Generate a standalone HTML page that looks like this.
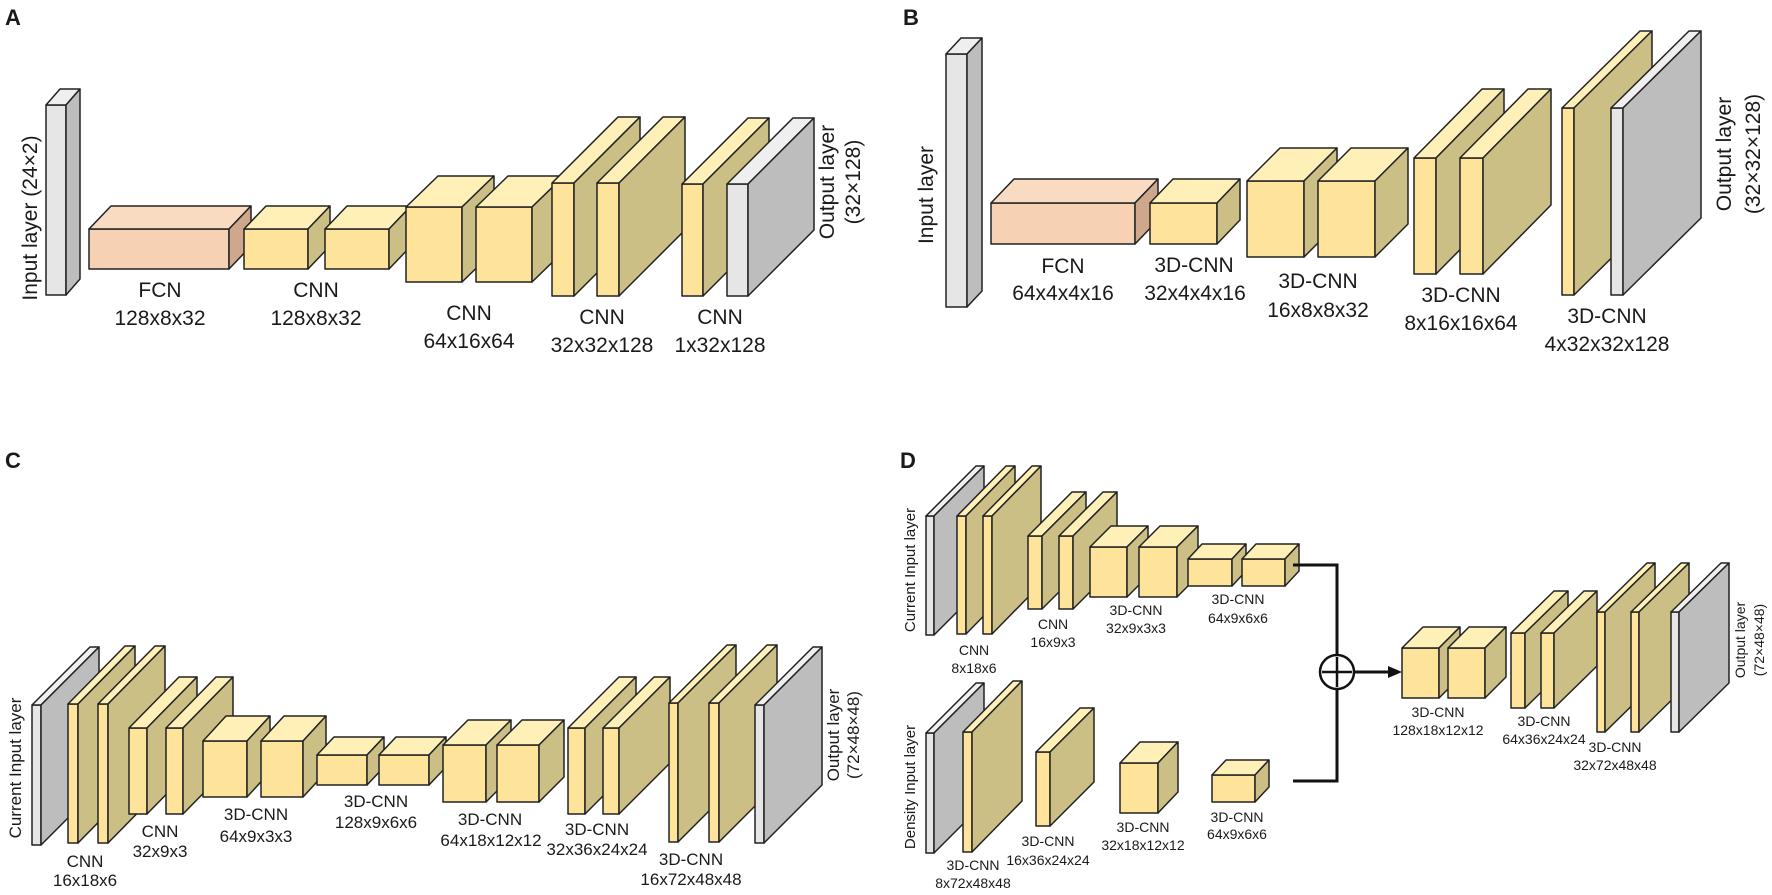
<!DOCTYPE html>
<html><head><meta charset="utf-8"><style>
html,body{margin:0;padding:0;background:#fff;}
svg{display:block;}
text{font-family:"Liberation Sans",Arial,sans-serif;fill:#1a1a1a;}
.y rect,.y .f{fill:#FEE39B}.y .t{fill:#FEF0B6}.y .s{fill:#CBBF86}
.o rect{fill:#F7D1B3}.o .t{fill:#F9DBC2}.o .s{fill:#CFA78D}
.g rect{fill:#E6E6E6}.g .t{fill:#EFEFEF}.g .s{fill:#BDBDBD}
g.y *,g.o *,g.g *{stroke:#222;stroke-width:1.5;stroke-linejoin:round}
.la{font-size:21px;text-anchor:middle}
.lc{font-size:17px;text-anchor:middle}
.ld{font-size:14px;text-anchor:middle}
.P{font-size:22px;font-weight:bold}
</style></head><body>
<svg width="1772" height="895" viewBox="0 0 1772 895" xmlns="http://www.w3.org/2000/svg">
<text class="P" x="5" y="25">A</text>
<text class="P" x="903" y="25">B</text>
<text class="P" x="5" y="468">C</text>
<text class="P" x="900" y="468">D</text>

<!-- ===== Panel A ===== -->
<g class="g"><rect x="46" y="105" width="20" height="190"/><polygon class="t" points="46,105 60,89 80,89 66,105"/><polygon class="s" points="66,105 80,89 80,279 66,295"/></g>
<g class="o"><rect x="89" y="229" width="140" height="40"/><polygon class="t" points="89,229 111,206 251,206 229,229"/><polygon class="s" points="229,229 251,206 251,246 229,269"/></g>
<g class="y"><rect x="244" y="229" width="64" height="40"/><polygon class="t" points="244,229 266,206 330,206 308,229"/><polygon class="s" points="308,229 330,206 330,246 308,269"/></g>
<g class="y"><rect x="325" y="229" width="64" height="40"/><polygon class="t" points="325,229 347,206 411,206 389,229"/><polygon class="s" points="389,229 411,206 411,246 389,269"/></g>
<g class="y"><rect x="406" y="207" width="56" height="75"/><polygon class="t" points="406,207 438,176 494,176 462,207"/><polygon class="s" points="462,207 494,176 494,251 462,282"/></g>
<g class="y"><rect x="476" y="207" width="56" height="75"/><polygon class="t" points="476,207 508,176 564,176 532,207"/><polygon class="s" points="532,207 564,176 564,251 532,282"/></g>
<g class="y"><rect x="552" y="183" width="22" height="113"/><polygon class="t" points="552,183 618,117 640,117 574,183"/><polygon class="s" points="574,183 640,117 640,230 574,296"/></g>
<g class="y"><rect x="597" y="183" width="22" height="113"/><polygon class="t" points="597,183 663,117 685,117 619,183"/><polygon class="s" points="619,183 685,117 685,230 619,296"/></g>
<g class="y"><rect x="682" y="184" width="21" height="112"/><polygon class="t" points="682,184 748,118 769,118 703,184"/><polygon class="s" points="703,184 769,118 769,230 703,296"/></g>
<g class="g"><rect x="727" y="184" width="21" height="112"/><polygon class="t" points="727,184 793,118 814,118 748,184"/><polygon class="s" points="748,184 814,118 814,230 748,296"/></g>

<text class="la" transform="translate(37,218) rotate(-90)">Input layer (24×2)</text>
<text class="la" transform="translate(834,182) rotate(-90)">Output layer</text>
<text class="la" transform="translate(860,182) rotate(-90)">(32×128)</text>
<text class="la" x="160" y="297">FCN</text><text class="la" x="160" y="325">128x8x32</text>
<text class="la" x="316" y="297">CNN</text><text class="la" x="316" y="325">128x8x32</text>
<text class="la" x="469" y="320">CNN</text><text class="la" x="469" y="348">64x16x64</text>
<text class="la" x="602" y="324">CNN</text><text class="la" x="602" y="352">32x32x128</text>
<text class="la" x="720" y="324">CNN</text><text class="la" x="720" y="352">1x32x128</text>

<!-- ===== Panel B ===== -->
<g class="g"><rect x="946" y="54" width="21" height="253"/><polygon class="t" points="946,54 961,38 982,38 967,54"/><polygon class="s" points="967,54 982,38 982,291 967,307"/></g>
<g class="o"><rect x="991" y="203" width="144" height="41"/><polygon class="t" points="991,203 1014,179 1158,179 1135,203"/><polygon class="s" points="1135,203 1158,179 1158,220 1135,244"/></g>
<g class="y"><rect x="1150" y="203" width="67" height="41"/><polygon class="t" points="1150,203 1173,179 1240,179 1217,203"/><polygon class="s" points="1217,203 1240,179 1240,220 1217,244"/></g>
<g class="y"><rect x="1247" y="181" width="57" height="76"/><polygon class="t" points="1247,181 1280,148 1337,148 1304,181"/><polygon class="s" points="1304,181 1337,148 1337,224 1304,257"/></g>
<g class="y"><rect x="1318" y="181" width="57" height="76"/><polygon class="t" points="1318,181 1351,148 1408,148 1375,181"/><polygon class="s" points="1375,181 1408,148 1408,224 1375,257"/></g>
<g class="y"><rect x="1414" y="158" width="22" height="116"/><polygon class="t" points="1414,158 1482,89 1504,89 1436,158"/><polygon class="s" points="1436,158 1504,89 1504,205 1436,274"/></g>
<g class="y"><rect x="1460" y="158" width="23" height="116"/><polygon class="t" points="1460,158 1528,89 1551,89 1483,158"/><polygon class="s" points="1483,158 1551,89 1551,205 1483,274"/></g>
<g class="y"><rect x="1562" y="108" width="12" height="187"/><polygon class="t" points="1562,108 1640,31 1652,31 1574,108"/><polygon class="s" points="1574,108 1652,31 1652,218 1574,295"/></g>
<g class="g"><rect x="1611" y="108" width="12" height="187"/><polygon class="t" points="1611,108 1689,31 1701,31 1623,108"/><polygon class="s" points="1623,108 1701,31 1701,218 1623,295"/></g>

<text class="la" transform="translate(933,195) rotate(-90)">Input layer</text>
<text class="la" transform="translate(1731,154) rotate(-90)">Output layer</text>
<text class="la" transform="translate(1760,154) rotate(-90)">(32×32×128)</text>
<text class="la" x="1063" y="273">FCN</text><text class="la" x="1063" y="300">64x4x4x16</text>
<text class="la" x="1194" y="272">3D-CNN</text><text class="la" x="1195" y="300">32x4x4x16</text>
<text class="la" x="1318" y="288">3D-CNN</text><text class="la" x="1318" y="317">16x8x8x32</text>
<text class="la" x="1461" y="302">3D-CNN</text><text class="la" x="1461" y="330">8x16x16x64</text>
<text class="la" x="1607" y="323">3D-CNN</text><text class="la" x="1607" y="351">4x32x32x128</text>

<!-- ===== Panel C ===== -->
<g class="g"><rect x="32" y="705" width="9" height="140"/><polygon class="t" points="32,705 90,647 99,647 41,705"/><polygon class="s" points="41,705 99,647 99,787 41,845"/></g>
<g class="y"><rect x="68" y="704" width="10" height="139"/><polygon class="t" points="68,704 125,646 135,646 78,704"/><polygon class="s" points="78,704 135,646 135,785 78,843"/></g>
<g class="y"><rect x="98" y="704" width="10" height="139"/><polygon class="t" points="98,704 155,646 165,646 108,704"/><polygon class="s" points="108,704 165,646 165,785 108,843"/></g>
<g class="y"><rect x="129" y="728" width="18" height="86"/><polygon class="t" points="129,728 179,677 197,677 147,728"/><polygon class="s" points="147,728 197,677 197,763 147,814"/></g>
<g class="y"><rect x="166" y="728" width="17" height="86"/><polygon class="t" points="166,728 216,677 233,677 183,728"/><polygon class="s" points="183,728 233,677 233,763 183,814"/></g>
<g class="y"><rect x="203" y="741" width="44" height="56"/><polygon class="t" points="203,741 226,716 270,716 247,741"/><polygon class="s" points="247,741 270,716 270,772 247,797"/></g>
<g class="y"><rect x="261" y="741" width="42" height="56"/><polygon class="t" points="261,741 284,716 326,716 303,741"/><polygon class="s" points="303,741 326,716 326,772 303,797"/></g>
<g class="y"><rect x="317" y="755" width="50" height="30"/><polygon class="t" points="317,755 334,737 384,737 367,755"/><polygon class="s" points="367,755 384,737 384,767 367,785"/></g>
<g class="y"><rect x="379" y="755" width="50" height="30"/><polygon class="t" points="379,755 396,737 446,737 429,755"/><polygon class="s" points="429,755 446,737 446,767 429,785"/></g>
<g class="y"><rect x="443" y="745" width="43" height="57"/><polygon class="t" points="443,745 468,720 511,720 486,745"/><polygon class="s" points="486,745 511,720 511,777 486,802"/></g>
<g class="y"><rect x="497" y="745" width="42" height="57"/><polygon class="t" points="497,745 522,720 564,720 539,745"/><polygon class="s" points="539,745 564,720 564,777 539,802"/></g>
<g class="y"><rect x="568" y="728" width="17" height="86"/><polygon class="t" points="568,728 619,677 636,677 585,728"/><polygon class="s" points="585,728 636,677 636,763 585,814"/></g>
<g class="y"><rect x="603" y="728" width="16" height="86"/><polygon class="t" points="603,728 654,677 670,677 619,728"/><polygon class="s" points="619,728 670,677 670,763 619,814"/></g>
<g class="y"><rect x="669" y="703" width="9" height="139"/><polygon class="t" points="669,703 727,645 736,645 678,703"/><polygon class="s" points="678,703 736,645 736,784 678,842"/></g>
<g class="y"><rect x="709" y="703" width="10" height="139"/><polygon class="t" points="709,703 767,645 777,645 719,703"/><polygon class="s" points="719,703 777,645 777,784 719,842"/></g>
<g class="g"><rect x="755" y="705" width="9" height="138"/><polygon class="t" points="755,705 813,647 822,647 764,705"/><polygon class="s" points="764,705 822,647 822,785 764,843"/></g>

<text class="lc" transform="translate(21,768) rotate(-90)">Current Input layer</text>
<text class="lc" transform="translate(839,735) rotate(-90)">Output layer</text>
<text class="lc" transform="translate(859,735) rotate(-90)">(72×48×48)</text>
<text class="lc" x="85" y="867">CNN</text><text class="lc" x="85" y="886">16x18x6</text>
<text class="lc" x="160" y="837">CNN</text><text class="lc" x="160" y="857">32x9x3</text>
<text class="lc" x="256" y="820">3D-CNN</text><text class="lc" x="256" y="842">64x9x3x3</text>
<text class="lc" x="376" y="807">3D-CNN</text><text class="lc" x="376" y="828">128x9x6x6</text>
<text class="lc" x="490" y="825">3D-CNN</text><text class="lc" x="491" y="846">64x18x12x12</text>
<text class="lc" x="597" y="835">3D-CNN</text><text class="lc" x="597" y="855">32x36x24x24</text>
<text class="lc" x="691" y="865">3D-CNN</text><text class="lc" x="691" y="885">16x72x48x48</text>

<!-- ===== Panel D ===== -->
<g class="g"><rect x="926" y="516" width="8" height="119"/><polygon class="t" points="926,516 976,466 984,466 934,516"/><polygon class="s" points="934,516 984,466 984,585 934,635"/></g>
<g class="y"><rect x="957" y="516" width="9" height="118"/><polygon class="t" points="957,516 1006,466 1015,466 966,516"/><polygon class="s" points="966,516 1015,466 1015,584 966,634"/></g>
<g class="y"><rect x="983" y="516" width="9" height="118"/><polygon class="t" points="983,516 1032,466 1041,466 992,516"/><polygon class="s" points="992,516 1041,466 1041,584 992,634"/></g>
<g class="y"><rect x="1028" y="536" width="14" height="73"/><polygon class="t" points="1028,536 1072,492 1086,492 1042,536"/><polygon class="s" points="1042,536 1086,492 1086,565 1042,609"/></g>
<g class="y"><rect x="1059" y="536" width="14" height="73"/><polygon class="t" points="1059,536 1103,492 1117,492 1073,536"/><polygon class="s" points="1073,536 1117,492 1117,565 1073,609"/></g>
<g class="y"><rect x="1090" y="547" width="37" height="50"/><polygon class="t" points="1090,547 1111,526 1148,526 1127,547"/><polygon class="s" points="1127,547 1148,526 1148,576 1127,597"/></g>
<g class="y"><rect x="1139" y="547" width="38" height="50"/><polygon class="t" points="1139,547 1160,526 1198,526 1177,547"/><polygon class="s" points="1177,547 1198,526 1198,576 1177,597"/></g>
<g class="y"><rect x="1188" y="559" width="44" height="27"/><polygon class="t" points="1188,559 1202,544 1246,544 1232,559"/><polygon class="s" points="1232,559 1246,544 1246,571 1232,586"/></g>
<g class="y"><rect x="1242" y="559" width="43" height="27"/><polygon class="t" points="1242,559 1256,544 1299,544 1285,559"/><polygon class="s" points="1285,559 1299,544 1299,571 1285,586"/></g>

<g class="g"><rect x="926" y="733" width="8" height="120"/><polygon class="t" points="926,733 976,683 984,683 934,733"/><polygon class="s" points="934,733 984,683 984,803 934,853"/></g>
<g class="y"><rect x="963" y="732" width="9" height="120"/><polygon class="t" points="963,732 1013,681 1022,681 972,732"/><polygon class="s" points="972,732 1022,681 1022,801 972,852"/></g>
<g class="y"><rect x="1036" y="752" width="14" height="74"/><polygon class="t" points="1036,752 1080,708 1094,708 1050,752"/><polygon class="s" points="1050,752 1094,708 1094,782 1050,826"/></g>
<g class="y"><rect x="1120" y="763" width="38" height="50"/><polygon class="t" points="1120,763 1140,742 1178,742 1158,763"/><polygon class="s" points="1158,763 1178,742 1178,792 1158,813"/></g>
<g class="y"><rect x="1212" y="775" width="43" height="27"/><polygon class="t" points="1212,775 1226,760 1269,760 1255,775"/><polygon class="s" points="1255,775 1269,760 1269,787 1255,802"/></g>

<g fill="none" stroke="#111" stroke-width="3">
<polyline points="1293,565 1337,565 1337,655"/>
<polyline points="1293,781 1337,781 1337,689"/>
<circle cx="1337" cy="672" r="17" stroke-width="2.5"/>
<line x1="1337" y1="657" x2="1337" y2="687" stroke-width="2.5"/>
<line x1="1322" y1="672" x2="1352" y2="672" stroke-width="2.5"/>
<line x1="1354" y1="672" x2="1392" y2="672"/>
</g>
<polygon points="1402,672 1388,666 1388,678" fill="#111"/>

<g class="y"><rect x="1402" y="648" width="37" height="50"/><polygon class="t" points="1402,648 1423,627 1460,627 1439,648"/><polygon class="s" points="1439,648 1460,627 1460,677 1439,698"/></g>
<g class="y"><rect x="1448" y="648" width="37" height="50"/><polygon class="t" points="1448,648 1469,627 1506,627 1485,648"/><polygon class="s" points="1485,648 1506,627 1506,677 1485,698"/></g>
<g class="y"><rect x="1511" y="633" width="14" height="75"/><polygon class="t" points="1511,633 1554,591 1568,591 1525,633"/><polygon class="s" points="1525,633 1568,591 1568,666 1525,708"/></g>
<g class="y"><rect x="1541" y="633" width="13" height="75"/><polygon class="t" points="1541,633 1584,591 1597,591 1554,633"/><polygon class="s" points="1554,633 1597,591 1597,666 1554,708"/></g>
<g class="y"><rect x="1597" y="612" width="8" height="120"/><polygon class="t" points="1597,612 1647,563 1655,563 1605,612"/><polygon class="s" points="1605,612 1655,563 1655,683 1605,732"/></g>
<g class="y"><rect x="1631" y="612" width="8" height="120"/><polygon class="t" points="1631,612 1681,563 1689,563 1639,612"/><polygon class="s" points="1639,612 1689,563 1689,683 1639,732"/></g>
<g class="g"><rect x="1671" y="612" width="8" height="120"/><polygon class="t" points="1671,612 1721,563 1729,563 1679,612"/><polygon class="s" points="1679,612 1729,563 1729,683 1679,732"/></g>

<text class="ld" style="font-size:15px" transform="translate(915,570) rotate(-90)">Current Input layer</text>
<text class="ld" style="font-size:15px" transform="translate(915,787) rotate(-90)">Density Input layer</text>
<text class="ld" transform="translate(1745,640) rotate(-90)">Output layer</text>
<text class="ld" transform="translate(1764,640) rotate(-90)">(72×48×48)</text>

<text class="ld" x="974" y="655">CNN</text><text class="ld" x="974" y="673">8x18x6</text>
<text class="ld" x="1053" y="629">CNN</text><text class="ld" x="1053" y="647">16x9x3</text>
<text class="ld" x="1136" y="615">3D-CNN</text><text class="ld" x="1136" y="633">32x9x3x3</text>
<text class="ld" x="1238" y="604">3D-CNN</text><text class="ld" x="1238" y="623">64x9x6x6</text>
<text class="ld" x="973" y="870">3D-CNN</text><text class="ld" x="973" y="888">8x72x48x48</text>
<text class="ld" x="1048" y="846">3D-CNN</text><text class="ld" x="1048" y="865">16x36x24x24</text>
<text class="ld" x="1143" y="832">3D-CNN</text><text class="ld" x="1143" y="850">32x18x12x12</text>
<text class="ld" x="1237" y="822">3D-CNN</text><text class="ld" x="1237" y="839">64x9x6x6</text>
<text class="ld" x="1438" y="717">3D-CNN</text><text class="ld" x="1438" y="735">128x18x12x12</text>
<text class="ld" x="1544" y="726">3D-CNN</text><text class="ld" x="1544" y="744">64x36x24x24</text>
<text class="ld" x="1615" y="752">3D-CNN</text><text class="ld" x="1615" y="770">32x72x48x48</text>
</svg>
</body></html>
